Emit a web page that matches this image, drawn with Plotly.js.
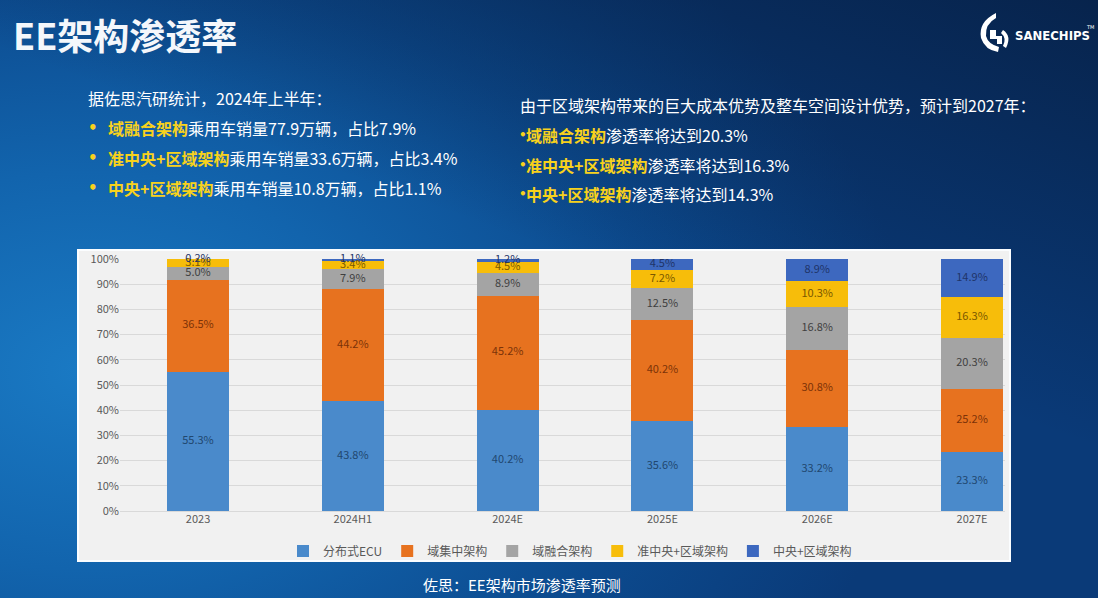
<!DOCTYPE html>
<html>
<head>
<meta charset="utf-8">
<script src="https://cdn.plot.ly/plotly-3.0.1.min.js"></script>
<style>
  html, body { margin: 0; padding: 0; width: 1098px; height: 598px; overflow: hidden; }
  body {
    background:
      linear-gradient(200deg, rgba(6,28,62,0.75) 0%, rgba(6,28,62,0.0) 45%),
      radial-gradient(ellipse 75% 95% at 8% 62%, #1a7ac4 0%, #1264ad 35%, #0c4a8e 70%, #0a3a78 100%);
  }
  #chart { width: 1098px; height: 598px; }
</style>
</head>
<body>
<div id="chart"></div>
<script>
// ---- data ----
const categories = ['2023', '2024H1', '2024E', '2025E', '2026E', '2027E'];
const seriesNames = ['分布式ECU', '域集中架构', '域融合架构', '准中央+区域架构', '中央+区域架构'];
const ecu = [55.3, 43.8, 40.2, 35.6, 33.2, 23.3];
const domainCentral = [36.5, 44.2, 45.2, 40.2, 30.8, 25.2];
const domainFusion = [5.0, 7.9, 8.9, 12.5, 16.8, 20.3];
const quasiCentralZone = [3.1, 3.4, 4.5, 7.2, 10.3, 16.3];
const centralZone = [0.2, 1.1, 1.2, 4.5, 8.9, 14.9];
const yTicks = [0, 10, 20, 30, 40, 50, 60, 70, 80, 90, 100];

// ---- styling ----
const seriesValues = [ecu, domainCentral, domainFusion, quasiCentralZone, centralZone];
const barColors = ['#4a8acb', '#e7721f', '#a4a4a4', '#f7bd0a', '#3d68bf'];
const labelColors = ['#21476f', '#7c3208', '#3f3f3f', '#7a5800', '#1f3468'];

const W = 1098, H = 598;
const M = { l: 120, r: 93, t: 259, b: 87 };
const PW = W - M.l - M.r, PH = H - M.t - M.b;
const px = v => (v - M.l) / PW;
const py = v => (H - M.b - v) / PH;

const FONT = '"Noto Sans CJK SC", "Noto Sans", sans-serif';

const traces = seriesValues.map((vals, i) => ({
  type: 'bar',
  name: seriesNames[i],
  x: categories,
  y: vals,
  marker: { color: barColors[i], line: { width: 0 } },
  hoverinfo: 'skip'
}));

// data labels at the middle of each stacked segment
const base = categories.map(() => 0);
seriesValues.forEach((vals, i) => {
  const mids = vals.map((v, j) => base[j] + v / 2);
  vals.forEach((v, j) => { base[j] += v; });
  traces.push({
    type: 'scatter', mode: 'text', showlegend: false, hoverinfo: 'skip',
    x: categories, y: mids,
    text: vals.map(v => v.toFixed(1) + '%'),
    textposition: 'middle center',
    cliponaxis: false,
    textfont: { family: FONT, size: 11, color: labelColors[i] }
  });
});

const YEL = '#f8d21c';
const annotations = [];
function ann(x, y, text, opts) {
  annotations.push(Object.assign({
    xref: 'paper', yref: 'paper', x: px(x), y: py(y), text: text,
    showarrow: false, xanchor: 'left', yanchor: 'middle',
    font: { family: FONT, size: 16, color: '#ffffff' }
  }, opts || {}));
}
// Title
ann(11, 34, '<b>EE架构渗透率</b>', { font: { family: FONT, size: 36, color: '#f4f7fb' } });
// Logo text
ann(1013, 35, '<b>SANECHIPS</b>', { font: { family: 'DejaVu Sans Condensed, sans-serif', size: 13, color: '#ffffff' } });
ann(1084, 27, 'TM', { font: { family: 'DejaVu Sans, sans-serif', size: 5, color: '#ffffff' } });

// Left block
ann(86, 98, '据佐思汽研统计，2024年上半年：');
const leftLines = [
  ['域融合架构', '乘用车销量77.9万辆，占比7.9%'],
  ['准中央+区域架构', '乘用车销量33.6万辆，占比3.4%'],
  ['中央+区域架构', '乘用车销量10.8万辆，占比1.1%']
];
leftLines.forEach((l, i) => {
  const y = 128 + i * 30;
  ann(86, y, '<b>•</b>', { font: { family: 'DejaVu Sans, sans-serif', size: 15, color: YEL } });
  ann(106, y, '<b><span style="color:' + YEL + '">' + l[0] + '</span></b>' + l[1]);
});
// Right block
ann(518, 105, '由于区域架构带来的巨大成本优势及整车空间设计优势，预计到2027年：');
const rightLines = [
  ['域融合架构', '渗透率将达到20.3%'],
  ['准中央+区域架构', '渗透率将达到16.3%'],
  ['中央+区域架构', '渗透率将达到14.3%']
];
rightLines.forEach((l, i) => {
  const y = 135 + i * 29.5;
  ann(517, y, '<b>•</b>', { font: { family: 'DejaVu Sans, sans-serif', size: 12, color: YEL } });
  ann(524, y, '<b><span style="color:' + YEL + '">' + l[0] + '</span></b>' + l[1]);
});
// Caption
ann(522, 584, '佐思：EE架构市场渗透率预测', { xanchor: 'center', font: { family: FONT, size: 15, color: '#ffffff' } });

const shapes = [
  // chart panel
  { type: 'rect', xref: 'paper', yref: 'paper', layer: 'below',
    x0: px(78), x1: px(1010), y0: py(250), y1: py(561),
    fillcolor: '#f1f1f1', line: { color: '#fbfdff', width: 2 } },
  // logo icon (rough)
  { type: 'path', xref: 'paper', yref: 'paper', layer: 'above',
    path: 'M ' + px(996) + ',' + py(13) + ' Q ' + px(978) + ',' + py(22) + ' ' + px(981) + ',' + py(38) +
          ' Q ' + px(985) + ',' + py(50) + ' ' + px(998) + ',' + py(52) +
          ' L ' + px(999) + ',' + py(47) + ' Q ' + px(988) + ',' + py(44) + ' ' + px(986) + ',' + py(36) +
          ' Q ' + px(985) + ',' + py(24) + ' ' + px(996) + ',' + py(18) + ' Z',
    fillcolor: '#ffffff', line: { width: 0 } },
  { type: 'path', xref: 'paper', yref: 'paper', layer: 'above',
    path: 'M ' + px(990) + ',' + py(30) + ' L ' + px(996) + ',' + py(30) + ' L ' + px(996) + ',' + py(36) +
          ' L ' + px(1002) + ',' + py(36) + ' L ' + px(1002) + ',' + py(44) + ' L ' + px(997) + ',' + py(44) +
          ' L ' + px(997) + ',' + py(39) + ' L ' + px(990) + ',' + py(39) + ' Z',
    fillcolor: '#ffffff', line: { width: 0 } },
  { type: 'path', xref: 'paper', yref: 'paper', layer: 'above',
    path: 'M ' + px(1003) + ',' + py(30) + ' Q ' + px(1012) + ',' + py(36) + ' ' + px(1006) + ',' + py(48) +
          ' L ' + px(1003) + ',' + py(46) + ' Q ' + px(1007) + ',' + py(38) + ' ' + px(1001) + ',' + py(33) + ' Z',
    fillcolor: '#ffffff', line: { width: 0 } }
];

const layout = {
  width: W, height: H,
  margin: M,
  paper_bgcolor: 'rgba(0,0,0,0)',
  plot_bgcolor: 'rgba(0,0,0,0)',
  barmode: 'stack',
  bargap: 0.6,
  showlegend: true,
  legend: {
    orientation: 'h', xref: 'paper', yref: 'paper',
    x: px(570), xanchor: 'center', y: py(551), yanchor: 'middle',
    font: { family: FONT, size: 12, color: '#595959' },
    bgcolor: 'rgba(0,0,0,0)', itemclick: false, traceorder: 'normal',
    itemwidth: 30, tracegroupgap: 0
  },
  xaxis: {
    type: 'category',
    range: [-0.504, 5.213],
    showgrid: false, zeroline: false, showline: false,
    ticks: '', ticklen: 0,
    tickfont: { family: FONT, size: 11, color: '#595959' },
    fixedrange: true
  },
  yaxis: {
    range: [0, 100],
    tickvals: yTicks,
    ticktext: yTicks.map(v => v + '%'),
    showgrid: true, gridcolor: '#d9d9d9', gridwidth: 1,
    zeroline: true, zerolinecolor: '#d9d9d9', zerolinewidth: 1,
    showline: false, ticks: '',
    ticklabelstandoff: 0,
    tickfont: { family: FONT, size: 11, color: '#595959' },
    fixedrange: true
  },
  annotations: annotations,
  shapes: shapes,
  font: { family: FONT }
};

Plotly.newPlot('chart', traces, layout, { displayModeBar: false, staticPlot: true });
</script>
</body>
</html>
